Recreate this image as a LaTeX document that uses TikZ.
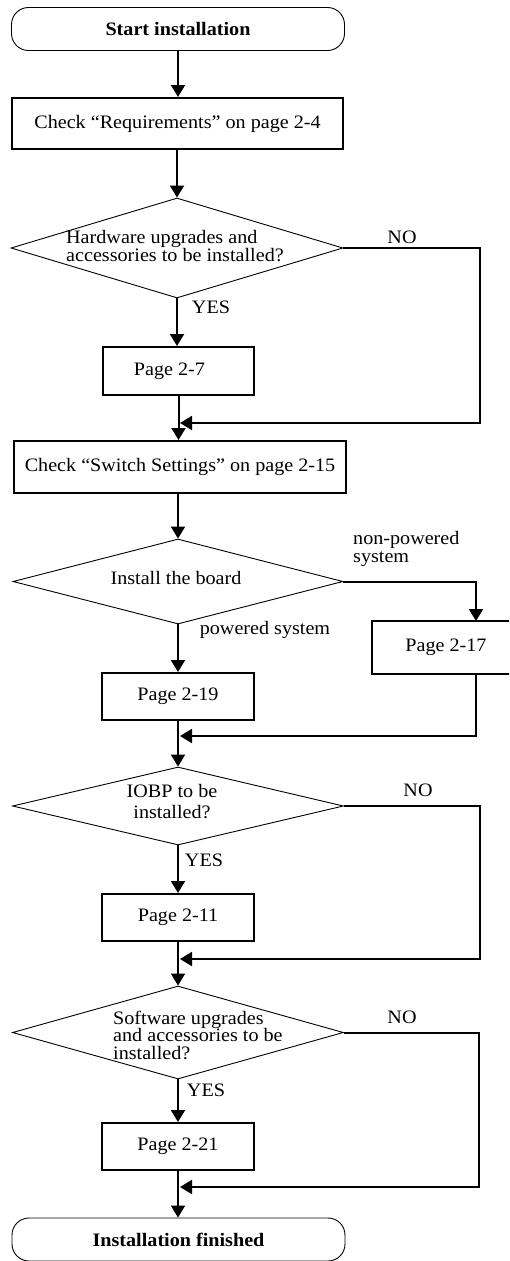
\documentclass[tikz,border=0pt]{standalone}
\usepackage{fontspec}
\setmainfont[FakeStretch=1.06]{Liberation Serif}
\usetikzlibrary{arrows.meta,shapes.geometric}
\begin{document}
\begin{tikzpicture}[x=1pt,y=-1pt,
  txt/.style={font=\fontsize{19}{19}\selectfont},
  box/.style={draw,line width=2pt,rectangle,inner sep=0pt,txt},
  term/.style={draw,line width=0.9pt,rectangle,rounded corners=17pt,inner sep=0pt,
    minimum width=333pt,minimum height=43pt,font=\fontsize{19}{19}\selectfont\bfseries},
  dia/.style={draw,line width=0.9pt,diamond,inner sep=0pt},
  arr/.style={line width=2pt,-{Triangle[length=12pt,width=14pt]}},
  lbl/.style={inner sep=0pt,txt}]
\useasboundingbox (0,0) rectangle (509,1261);
\clip (0,0) rectangle (509,1261);

% nodes
\node[term] (start) at (178,29) {Start installation};
\node[box,minimum width=331pt,minimum height=51pt] (b1) at (177.5,123.5) {Check “Requirements” on page 2-4};
\node[dia,minimum width=332pt,minimum height=100pt] (d1) at (177,248) {};
\node[lbl,align=left,anchor=west,font=\fontsize{19}{18.5}\selectfont] (d1t) at (66,246) {Hardware upgrades and\\accessories to be installed?};
\node[box,minimum width=151pt,minimum height=48pt] (p27) at (178.5,371) {\raisebox{2pt}{Page 2-7}\hspace*{18pt}};
\node[box,minimum width=332pt,minimum height=52pt] (b2) at (180,467) {Check “Switch Settings” on page 2-15};
\node[dia,minimum width=330pt,minimum height=85pt] (d2) at (178,581.5) {};
\node[lbl] (d2t) at (176,578) {Install the board};
\node[box,minimum width=148pt,minimum height=53pt] (p217) at (446,647.5) {\raisebox{4pt}{Page 2-17}};
\node[box,minimum width=152pt,minimum height=47pt] (p219) at (178,696.5) {\raisebox{2pt}{Page 2-19}};
\node[dia,minimum width=331pt,minimum height=78pt] (d3) at (178,806) {};
\node[lbl,align=center,font=\fontsize{19}{21}\selectfont] (d3t) at (172,802) {IOBP to be\\installed?};
\node[box,minimum width=152pt,minimum height=47pt] (p211) at (178,917.5) {\raisebox{2pt}{Page 2-11}};
\node[dia,minimum width=331pt,minimum height=93pt] (d4) at (178,1032.5) {};
\node[lbl,align=left,anchor=west,font=\fontsize{19}{17.5}\selectfont] (d4t) at (113,1035) {Software upgrades\\and accessories to be\\installed?};
\node[box,minimum width=152pt,minimum height=47pt] (p221) at (178,1146.5) {\raisebox{2pt}{Page 2-21}};
\node[term] (end) at (178.5,1239.5) {Installation finished};

% labels
\node[lbl] (no1) at (402,237) {NO};
\node[lbl] (yes1) at (211,307) {YES};
\node[lbl,align=left,anchor=north west,font=\fontsize{19}{18}\selectfont] (np) at (353,531) {non-powered\\system};
\node[lbl] (pw) at (265,630) {powered system};
\node[lbl] (no3) at (418,790) {NO};
\node[lbl] (yes3) at (204,860) {YES};
\node[lbl] (no4) at (402,1017) {NO};
\node[lbl] (yes4) at (206,1090) {YES};

% junction and corner coordinates
\coordinate (j1) at (180,423);
\coordinate (c1) at (480,423);
\coordinate (j2) at (180,736);
\coordinate (t217) at (476,621);
\coordinate (b217) at (476,674);
\coordinate (j3) at (180,959);
\coordinate (c3) at (480,959);
\coordinate (j4) at (180,1187);
\coordinate (c4) at (479,1187);

% main flow
\draw[arr] (start.south) -- (start.south |- b1.north);
\draw[arr] (b1.south -| d1.north) -- (d1.north);
\draw[arr] (d1.south) -- (d1.south |- p27.north);
\draw[arr] (p27.south) -- (p27.south |- b2.north);
\draw[arr] (b2.south -| d2.north) -- (d2.north);
\draw[arr] (d2.south) -- (d2.south |- p219.north);
\draw[arr] (p219.south) -- (p219.south |- d3.north);
\draw[arr] (d3.south) -- (d3.south |- p211.north);
\draw[arr] (p211.south) -- (p211.south |- d4.north);
\draw[arr] (d4.south) -- (d4.south |- p221.north);
\draw[arr] (p221.south) -- (p221.south |- end.north);

% side branches
\draw[arr] (d1.east) -| (c1) -- (j1);
\draw[arr] (d2.east) -| (t217);
\draw[arr] (b217) |- (j2);
\draw[arr] (d3.east) -| (c3) -- (j3);
\draw[arr] (d4.east) -| (c4) -- (j4);
\end{tikzpicture}
\end{document}
